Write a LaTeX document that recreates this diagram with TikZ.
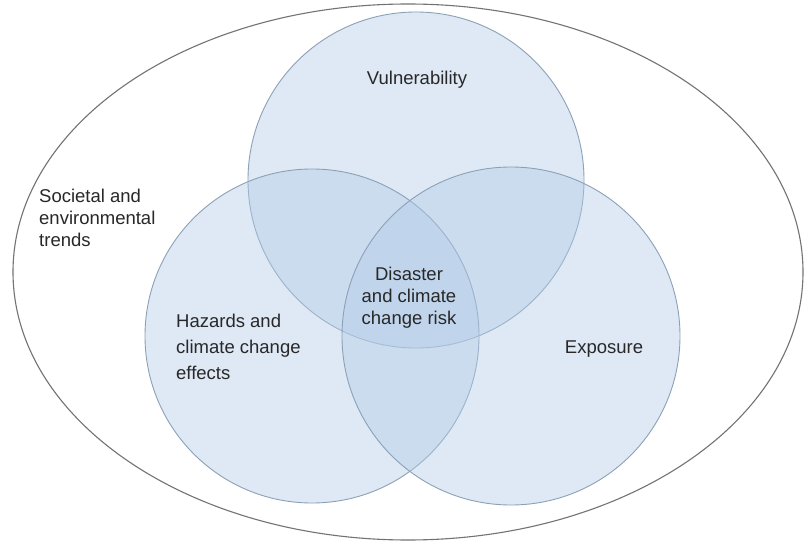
\documentclass[tikz,border=0pt]{standalone}
\usepackage{fontspec}
\setmainfont{Liberation Sans}
\definecolor{vennfill}{RGB}{178,204,232}
\definecolor{vennline}{RGB}{140,160,182}
\definecolor{outerline}{RGB}{115,115,115}
\definecolor{labeltext}{RGB}{40,40,40}
\begin{document}
\begin{tikzpicture}[x=1pt,y=1pt,
  venn/.style={draw=vennline,line width=0.9pt,fill=vennfill,fill opacity=0.42},
  outer/.style={draw=outerline,line width=1.1pt},
  lbl/.style={font=\fontsize{18.5}{22}\selectfont,text=labeltext,inner sep=0pt}]
\useasboundingbox (0,0) rectangle (804,542);
\fill[white] (0,0) rectangle (804,542);
\draw[outer] (408,270) ellipse [x radius=395, y radius=268];
\draw[venn] (416,362) circle [radius=168];
\draw[venn] (312,206) circle [radius=167];
\draw[venn] (511,206) circle [radius=169];
\node[lbl,anchor=base] (vul) at (417,457) {Vulnerability};
\node[lbl,anchor=base] (exp) at (604,189) {Exposure};
\node[lbl,anchor=base,align=center] (risk) at (409,218) {Disaster\\and climate\\change risk};
\node[lbl,anchor=base west,align=left,font=\fontsize{18.5}{26}\selectfont] (haz) at (176,163) {Hazards and\\climate change\\effects};
\node[lbl,anchor=base west,align=left] (soc) at (39,295) {Societal and\\environmental\\trends};
\end{tikzpicture}
\end{document}
